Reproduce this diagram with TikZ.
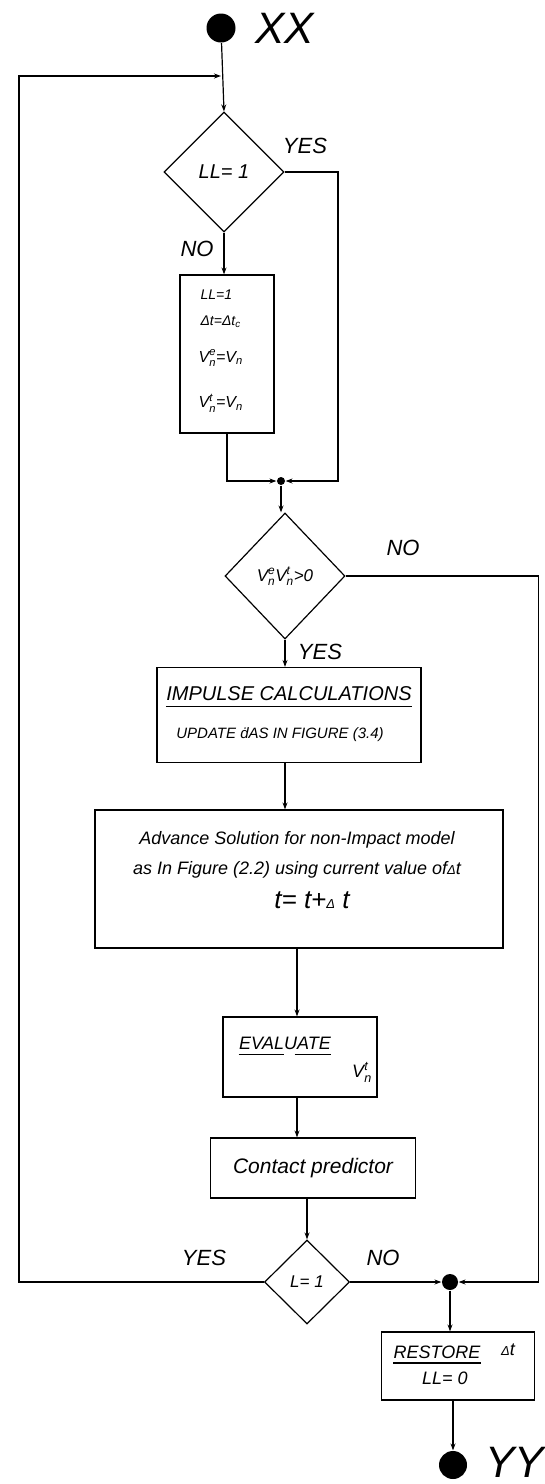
\documentclass[tikz,border=0pt]{standalone}
\usepackage{amsmath}
\usepackage{fontspec}
\setmainfont{Liberation Sans}
\usetikzlibrary{shapes.geometric,arrows.meta}
\newcommand\Vsup[1]{\ensuremath{\textit{V}^{\textit{#1}}_{\textit{n}}}}
\newcommand\Vnn{\ensuremath{\textit{V}_{\textit{n}}}}
\newcommand\smD{{\fontsize{13}{13}\selectfont Δ}}
\begin{document}
\begin{tikzpicture}[x=1pt,y=-1pt,line width=1.2pt,
  flow/.style={-{Stealth[length=7pt,width=5pt]}},
  box/.style={draw,rectangle,inner sep=0pt},
  dia/.style={draw,diamond,inner sep=0pt},
  lab/.style={font=\fontsize{22}{22}\selectfont\itshape,inner sep=0pt},
  txt/.style={font=\fontsize{#1}{#1}\selectfont\itshape,inner sep=0pt},
  blob/.style={circle,fill=black,inner sep=0pt}]
\useasboundingbox (0,0) rectangle (545,1484);

% start / end terminals
\node[blob,minimum size=29pt] (start) at (221,28) {};
\node[txt=44,anchor=west] (xx) at (255,28) {XX};
\coordinate (j1) at (221,76);

% decision LL=1
\node[dia,minimum width=120pt,minimum height=120pt] (d1) at (224,172) {\fontsize{20}{20}\selectfont\itshape LL= 1};
\node[lab] (yes1) at (305,146) {YES};
\node[lab] (no1) at (197,249) {NO};

% box 1
\node[box,minimum width=94pt,minimum height=158pt] (b1) at (227,354) {};
\node[txt=14,anchor=west] (b1a) at (200,295) {LL=1};
\node[txt=14,anchor=west] (b1b) at (200,322) {Δ\textit{t}=Δ\textit{t}\textsubscript{c}};
\node[txt=16,anchor=west] (b1c) at (198,358) {\Vsup{e}=\Vnn};
\node[txt=16,anchor=west] (b1d) at (198,403) {\Vsup{t}=\Vnn};

% junction
\node[blob,minimum size=8pt] (dot1) at (281,481) {};
\coordinate (c2) at (338,481);

% decision Ve Vt > 0
\node[dia,minimum width=120pt,minimum height=126pt] (d2) at (285,576) {\fontsize{17}{17}\selectfont\itshape \Vsup{e}\Vsup{t}>0};
\node[lab] (no2) at (403,548) {NO};
\node[lab] (yes2) at (320,652) {YES};

% impulse box
\node[box,minimum width=264pt,minimum height=95pt] (b2) at (289,715) {};
\node[txt=20] (imp) at (289,694) {IMPULSE CALCULATIONS};
\node[txt=15] (upd) at (280,735) {UPDATE \.{d}AS IN FIGURE (3.4)};

% advance box
\node[box,minimum width=408pt,minimum height=138pt] (b3) at (299,879) {};
\node[txt=18] (adv1) at (297,840) {Advance Solution for non-Impact model};
\node[txt=18] (adv2) at (297,870) {as In Figure (2.2) using current value of\smD\textit{t}};
\node[txt=26] (adv3) at (312,900) {\textit{t}= \textit{t}+\smD\ \textit{t}};

% evaluate box
\node[box,minimum width=154pt,minimum height=80pt] (b4) at (300,1057) {};
\node[txt=18] (eval) at (285,1043) {EVALUATE};
\node[txt=18] (evv) at (362,1072) {\Vsup{t}};
\coordinate (a4) at (297,948);

% contact predictor
\node[box,minimum width=205pt,minimum height=60pt] (b5) at (313,1168) {\fontsize{21}{21}\selectfont\itshape Contact predictor};

% decision L=1
\node[dia,minimum width=85pt,minimum height=84pt] (d3) at (307,1282) {\fontsize{17}{17}\selectfont\itshape L= 1};
\node[lab] (yes3) at (204,1258) {YES};
\node[lab] (no3) at (383,1258) {NO};
\coordinate (lft) at (19,1282);

% second junction
\node[blob,minimum size=16pt] (dot2) at (450,1282) {};

% restore box
\node[box,minimum width=153pt,minimum height=68pt] (b6) at (458,1366) {};
\node[txt=18] (rest) at (437,1352) {RESTORE};
\node[txt=18] (rdt) at (508,1350) {\smD\textit{t}};
\node[txt=18] (ll0) at (445,1378) {LL= 0};

\node[blob,minimum size=28pt] (endc) at (453,1465) {};
\node[txt=44,anchor=west] (yy) at (485,1462) {YY};

% underlines
\draw[line width=1.4pt] ([yshift=-5pt]imp.south west) -- ([yshift=-5pt]imp.south east);
\draw ([yshift=-5pt]eval.south west) -- ([yshift=-5pt,xshift=-47pt]eval.south east);
\draw ([yshift=-5pt,xshift=56pt]eval.south west) -- ([yshift=-5pt]eval.south east);
\draw ([yshift=-4pt]rest.south west) -- ([yshift=-4pt]rest.south east);

% connectors
\draw[flow] (start) -- (d1.north);
\draw[flow] (d3.west) -- (lft) |- (j1);
\draw[flow] (d1.south) -- (d1.south |- b1.north);
\draw[flow] (d1.east) -| (c2) -- (dot1);
\draw[flow] (b1.south) |- (dot1);
\draw[flow] (dot1) -- (dot1 |- d2.north);
\draw[flow] (d2.east) -- ++(193,0) |- (dot2);
\draw[flow] (d2.south) -- (d2.south |- b2.north);
\draw[flow] (b2.south -| d2.south) -- (d2.south |- b3.north);
\draw[flow] (a4) -- (a4 |- b4.north);
\draw[flow] (a4 |- b4.south) -- (a4 |- b5.north);
\draw[flow] (b5.south -| d3.north) -- (d3.north);
\draw[flow] (d3.east) -- (dot2);
\draw[flow] (dot2) -- (dot2 |- b6.north);
\draw[flow] (b6.south -| endc) -- (endc.north);
\end{tikzpicture}
\end{document}
